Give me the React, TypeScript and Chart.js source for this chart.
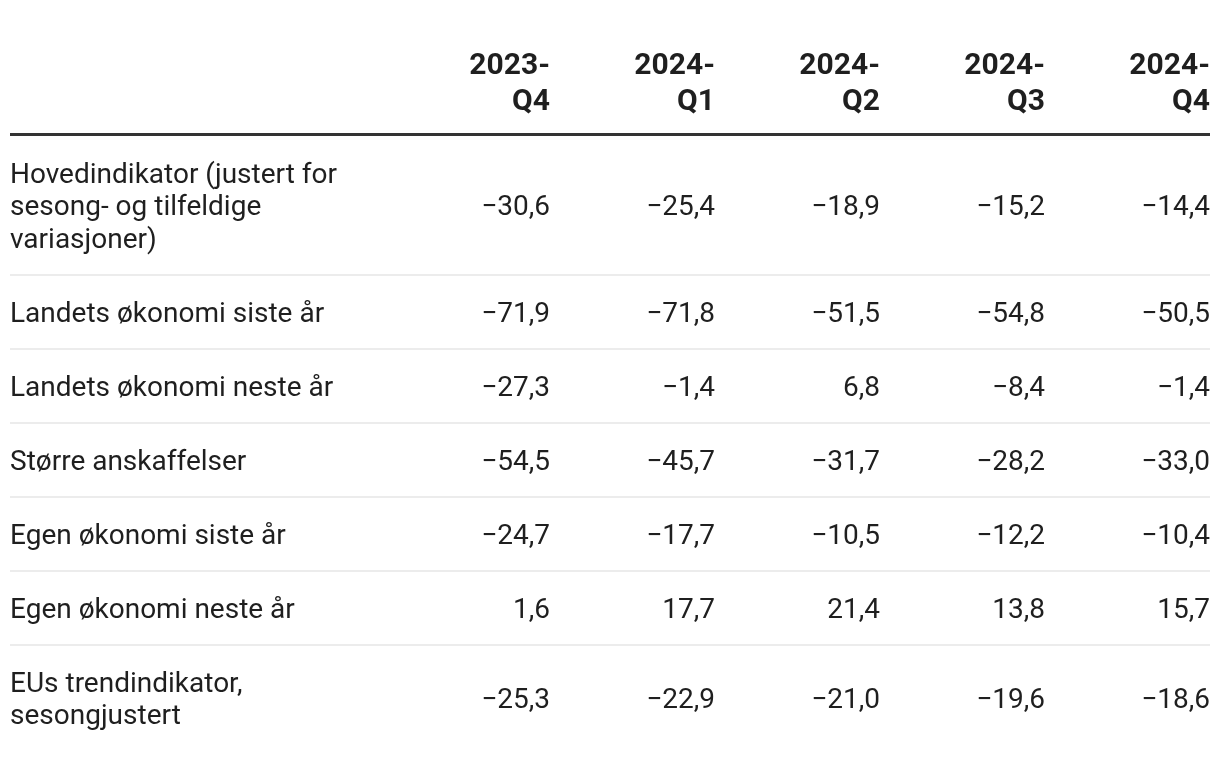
import React, { useEffect, useRef } from "react";
import { Chart, registerables } from "chart.js";

Chart.register(...registerables);

// ---------- data ----------
const periods = ["2023-Q4", "2024-Q1", "2024-Q2", "2024-Q3", "2024-Q4"];

const indicators = [
  "Hovedindikator (justert for sesong- og tilfeldige variasjoner)",
  "Landets økonomi siste år",
  "Landets økonomi neste år",
  "Større anskaffelser",
  "Egen økonomi siste år",
  "Egen økonomi neste år",
  "EUs trendindikator, sesongjustert",
];

const hovedindikator = [-30.6, -25.4, -18.9, -15.2, -14.4];
const landetsOkonomiSiste = [-71.9, -71.8, -51.5, -54.8, -50.5];
const landetsOkonomiNeste = [-27.3, -1.4, 6.8, -8.4, -1.4];
const storreAnskaffelser = [-54.5, -45.7, -31.7, -28.2, -33.0];
const egenOkonomiSiste = [-24.7, -17.7, -10.5, -12.2, -10.4];
const egenOkonomiNeste = [1.6, 17.7, 21.4, 13.8, 15.7];
const euTrendindikator = [-25.3, -22.9, -21.0, -19.6, -18.6];

const rowValues = [
  hovedindikator,
  landetsOkonomiSiste,
  landetsOkonomiNeste,
  storreAnskaffelser,
  egenOkonomiSiste,
  egenOkonomiNeste,
  euTrendindikator,
];

// ---------- styles ----------
const CANVAS_W = 1204;
const CANVAS_H = 744;
const FONT_FAMILY = "Roboto, 'Noto Sans', 'DejaVu Sans', sans-serif";
const BODY_SIZE = 28;
const BODY_LH = 32.5;
const ROW_PAD = 41.5;
const HEAD_SIZE = 30;
const HEAD_LH = 36.5;
const HEAD_PAD_TOP = 15;
const HEAD_PAD_BOTTOM = 15;
const RULE_THICK = 3;
const SEP_THICK = 2;
const LABEL_COL_W = 375;
const VALUE_COL_W = 165;
const LABEL_WRAP_W = 355;
const PAD_LEFT = 2;
const PAD_RIGHT = 2;
const PAD_TOP = 22;
const CAP = 0.711;
const TEXT_COLOR = "#1f1f1f";
const RULE_COLOR = "#333333";
const SEP_COLOR = "#ececec";

const bodyFont = `400 ${BODY_SIZE}px ${FONT_FAMILY}`;
const headFont = `700 ${HEAD_SIZE}px ${FONT_FAMILY}`;

function fmt(v: number): string {
  const s = Math.abs(v).toFixed(1).replace(".", ",");
  return v < 0 ? "\u2212" + s : s;
}

function wrap(ctx: CanvasRenderingContext2D, text: string, maxW: number): string[] {
  const words = text.split(" ");
  const lines: string[] = [];
  let cur = "";
  for (const w of words) {
    const test = cur ? cur + " " + w : w;
    if (cur && ctx.measureText(test).width > maxW) {
      lines.push(cur);
      cur = w;
    } else {
      cur = test;
    }
  }
  if (cur) lines.push(cur);
  return lines;
}

function headerLines(p: string): string[] {
  const i = p.indexOf("-");
  return i >= 0 ? [p.slice(0, i + 1), p.slice(i + 1)] : [p];
}

export default function App() {
  const ref = useRef<HTMLCanvasElement | null>(null);

  useEffect(() => {
    const canvas = ref.current;
    if (!canvas) return;

    const mctx = document.createElement("canvas").getContext("2d")!;
    mctx.font = bodyFont;
    const labelLines = indicators.map((t) => wrap(mctx, t, LABEL_WRAP_W));

    // vertical layout in y-scale units
    const headLineCenters = [0, 1].map((i) => HEAD_PAD_TOP + HEAD_LH / 2 + i * HEAD_LH);
    const ruleTop = HEAD_PAD_TOP + 2 * HEAD_LH + HEAD_PAD_BOTTOM;
    const ruleBottom = ruleTop + RULE_THICK;
    let y = ruleBottom;
    const rowCenters: number[] = [];
    const rowLineCenters: number[][] = [];
    const separators: number[] = [];
    labelLines.forEach((lines, ri) => {
      const h = lines.length * BODY_LH + ROW_PAD;
      const c = y + h / 2;
      rowCenters.push(c);
      rowLineCenters.push(lines.map((_, i) => c + (i - (lines.length - 1) / 2) * BODY_LH));
      y += h;
      if (ri < labelLines.length - 1) separators.push(y);
    });
    const total = y;
    const padBottom = CANVAS_H - PAD_TOP - total;

    const tablePlugin = {
      id: "tablePlugin",
      afterDatasetsDraw(chart: any) {
        const ctx: CanvasRenderingContext2D = chart.ctx;
        const xs = chart.scales.x;
        const ys = chart.scales.y;
        ctx.save();
        // rule
        ctx.fillStyle = RULE_COLOR;
        const r0 = ys.getPixelForValue(ruleTop);
        const r1 = ys.getPixelForValue(ruleBottom);
        ctx.fillRect(xs.left, r0, xs.right - xs.left, r1 - r0);
        // separators
        ctx.fillStyle = SEP_COLOR;
        separators.forEach((s) => {
          const p = ys.getPixelForValue(s);
          ctx.fillRect(xs.left, p - SEP_THICK / 2, xs.right - xs.left, SEP_THICK);
        });
        // header
        ctx.fillStyle = TEXT_COLOR;
        ctx.font = headFont;
        ctx.textAlign = "right";
        ctx.textBaseline = "alphabetic";
        periods.forEach((p, ci) => {
          const x = xs.getPixelForValue(ci + 1);
          headerLines(p).forEach((ln, li) => {
            ctx.fillText(ln, x, ys.getPixelForValue(headLineCenters[li]) + (CAP * HEAD_SIZE) / 2);
          });
        });
        // row labels
        ctx.font = bodyFont;
        ctx.textAlign = "left";
        const lx = xs.getPixelForValue(xs.min);
        labelLines.forEach((lines, ri) => {
          lines.forEach((ln, li) => {
            ctx.fillText(ln, lx, ys.getPixelForValue(rowLineCenters[ri][li]) + (CAP * BODY_SIZE) / 2);
          });
        });
        // values
        ctx.textAlign = "right";
        periods.forEach((_, ci) => {
          const meta = chart.getDatasetMeta(ci);
          meta.data.forEach((el: any, ri: number) => {
            ctx.fillText(fmt(rowValues[ri][ci]), el.x, el.y + (CAP * BODY_SIZE) / 2);
          });
        });
        ctx.restore();
      },
    };

    const chart = new Chart(canvas, {
      type: "scatter",
      data: {
        datasets: periods.map((p, ci) => ({
          label: p,
          data: rowValues.map((_, ri) => ({ x: ci + 1, y: rowCenters[ri] })),
          pointRadius: 0,
          pointHoverRadius: 0,
          showLine: false,
        })),
      },
      options: {
        animation: false,
        responsive: false,
        devicePixelRatio: 1,
        layout: { padding: { left: PAD_LEFT, right: PAD_RIGHT, top: PAD_TOP, bottom: padBottom } },
        plugins: { legend: { display: false }, tooltip: { enabled: false } },
        events: [],
        scales: {
          x: {
            type: "linear",
            display: false,
            min: -LABEL_COL_W / VALUE_COL_W,
            max: periods.length,
          },
          y: {
            type: "linear",
            display: false,
            reverse: true,
            min: 0,
            max: total,
          },
        },
      },
      plugins: [tablePlugin],
    } as any);

    return () => chart.destroy();
  }, []);

  return (
    <div style={{ width: CANVAS_W, height: CANVAS_H }}>
      <canvas ref={ref} width={CANVAS_W} height={CANVAS_H} style={{ display: "block" }} />
    </div>
  );
}
